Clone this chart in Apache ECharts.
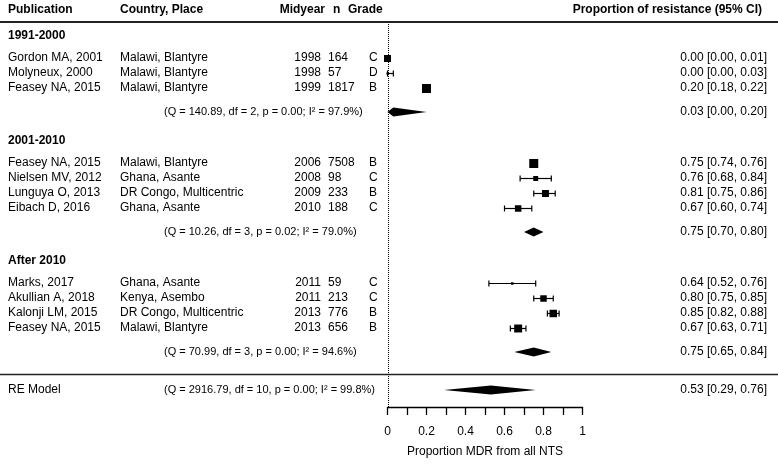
<!DOCTYPE html>
<html><head><meta charset="utf-8">
<script src="https://cdn.jsdelivr.net/npm/echarts@6/dist/echarts.min.js"></script>
<style>html,body{margin:0;padding:0;background:#fff}#c{width:778px;height:469px}</style>
</head><body><div id="c"></div>
<script>
// ---------------- data ----------------
const headers = ['Publication', 'Country, Place', 'Midyear', 'n', 'Grade', 'Proportion of resistance (95% CI)'];
const groupLabels = ['1991-2000', '2001-2010', 'After 2010'];
const studyGroup = [0, 0, 0, 1, 1, 1, 1, 2, 2, 2, 2];
const publications = ['Gordon MA, 2001', 'Molyneux, 2000', 'Feasey NA, 2015', 'Feasey NA, 2015', 'Nielsen MV, 2012', 'Lunguya O, 2013', 'Eibach D, 2016', 'Marks, 2017', 'Akullian A, 2018', 'Kalonji LM, 2015', 'Feasey NA, 2015'];
const places = ['Malawi, Blantyre', 'Malawi, Blantyre', 'Malawi, Blantyre', 'Malawi, Blantyre', 'Ghana, Asante', 'DR Congo, Multicentric', 'Ghana, Asante', 'Ghana, Asante', 'Kenya, Asembo', 'DR Congo, Multicentric', 'Malawi, Blantyre'];
const midyears = [1998, 1998, 1999, 2006, 2008, 2009, 2010, 2011, 2011, 2013, 2013];
const sampleSizes = [164, 57, 1817, 7508, 98, 233, 188, 59, 213, 776, 656];
const grades = ['C', 'D', 'B', 'B', 'C', 'B', 'C', 'C', 'C', 'B', 'B'];
const estimates = [0.00, 0.00, 0.20, 0.75, 0.76, 0.81, 0.67, 0.64, 0.80, 0.85, 0.67];
const lowers = [0.00, 0.00, 0.18, 0.74, 0.68, 0.75, 0.60, 0.52, 0.75, 0.82, 0.63];
const uppers = [0.01, 0.03, 0.22, 0.76, 0.84, 0.86, 0.74, 0.76, 0.85, 0.88, 0.71];
const weights = [10.0, 2.9, 12.9, 12.9, 7.1, 10.0, 9.3, 3.6, 9.3, 10.7, 11.4];
const subgroupEst = [0.03, 0.75, 0.75];
const subgroupLower = [0.00, 0.70, 0.65];
const subgroupUpper = [0.20, 0.80, 0.84];
const subgroupStats = ['(Q = 140.89, df = 2, p = 0.00; I² = 97.9%)', '(Q = 10.26, df = 3, p = 0.02; I² = 79.0%)', '(Q = 70.99, df = 3, p = 0.00; I² = 94.6%)'];
const overallLabel = 'RE Model';
const overallEst = 0.53, overallLower = 0.29, overallUpper = 0.76;
const overallStats = '(Q = 2916.79, df = 10, p = 0.00; I² = 99.8%)';
const xTickLabels = [0, 0.2, 0.4, 0.6, 0.8, 1];
const xAxisTitle = 'Proportion MDR from all NTS';

// ---------------- layout ----------------
const FAM = '"Liberation Sans", Arial, Helvetica, sans-serif';
const FONT = '12px ' + FAM;
const SMALL = '11px ' + FAM;
const BOLD = 'bold 12px ' + FAM;
const rowOf = [], headerRow = [], summaryRow = [];
let r = 0;
groupLabels.forEach((g, gi) => {
  const idx = studyGroup.map((v, i) => v === gi ? i : -1).filter(i => i >= 0);
  headerRow.push(r - 1.5);
  idx.forEach((i, k) => { rowOf[i] = r + k; });
  const last = r + idx.length - 1;
  summaryRow.push(last + 1.6);
  r = last + 5;
});
const lastRow = r - 5;
const hlineRow = lastRow + 3.07;
const overallRow = lastRow + 4.13;
const colHeaderRow = -3.2;
const yMin = -2.4, yMax = lastRow + 5.27;

const fmt = v => v.toFixed(2);
const ciText = (e, l, u) => `${fmt(e)} [${fmt(l)}, ${fmt(u)}]`;

// text entries: [row, text, x, align, font]
const texts = [];
const colX = { pub: 8, place: 120, year: 321, n: 328, grade: 369, stats: 164, ci: 767 };
texts.push([colHeaderRow, headers[0], 8, 'left', BOLD]);
texts.push([colHeaderRow, headers[1], 120, 'left', BOLD]);
texts.push([colHeaderRow, headers[2], 325, 'right', BOLD]);
texts.push([colHeaderRow, headers[3], 333, 'left', BOLD]);
texts.push([colHeaderRow, headers[4], 348, 'left', BOLD]);
texts.push([colHeaderRow, headers[5], 762, 'right', BOLD]);
groupLabels.forEach((g, gi) => {
  texts.push([headerRow[gi], g, colX.pub, 'left', BOLD]);
  texts.push([summaryRow[gi], subgroupStats[gi], colX.stats, 'left', SMALL]);
  texts.push([summaryRow[gi], ciText(subgroupEst[gi], subgroupLower[gi], subgroupUpper[gi]), colX.ci, 'right', FONT]);
});
publications.forEach((p, i) => {
  const row = rowOf[i];
  texts.push([row, p, colX.pub, 'left', FONT]);
  texts.push([row, places[i], colX.place, 'left', FONT]);
  texts.push([row, String(midyears[i]), colX.year, 'right', FONT]);
  texts.push([row, String(sampleSizes[i]), colX.n, 'left', FONT]);
  texts.push([row, grades[i], colX.grade, 'left', FONT]);
  texts.push([row, ciText(estimates[i], lowers[i], uppers[i]), colX.ci, 'right', FONT]);
});
texts.push([overallRow, overallLabel, colX.pub, 'left', FONT]);
texts.push([overallRow, overallStats, colX.stats, 'left', SMALL]);
texts.push([overallRow, ciText(overallEst, overallLower, overallUpper), colX.ci, 'right', FONT]);

const maxW = Math.max(...weights);
const MAXSIZE = 9;

const studyData = estimates.map((e, i) => [e, rowOf[i], lowers[i], uppers[i], weights[i]]);
const diamondData = subgroupEst.map((e, gi) => [e, summaryRow[gi], subgroupLower[gi], subgroupUpper[gi]]);
diamondData.push([overallEst, overallRow, overallLower, overallUpper]);

const chart = echarts.init(document.getElementById('c'), null, { renderer: 'canvas' });
chart.setOption({
  animation: false,
  backgroundColor: '#fff',
  grid: { left: 387.5, width: 195, top: 22, bottom: 62, containLabel: false },
  xAxis: {
    type: 'value', min: 0, max: 1, interval: 0.1,
    axisLine: { show: true, onZero: false, lineStyle: { color: '#000', width: 1.3 } },
    axisTick: { show: true, length: 8, lineStyle: { color: '#000', width: 1.3 } },
    splitLine: { show: false },
    axisLabel: {
      color: '#000', fontSize: 12, fontFamily: FAM, margin: 19,
      formatter: v => xTickLabels.some(t => Math.abs(t - v) < 1e-9) ? String(+v.toFixed(1)) : ''
    },
    name: xAxisTitle, nameLocation: 'middle', nameGap: 39,
    nameTextStyle: { color: '#000', fontSize: 12, fontFamily: FAM }
  },
  yAxis: { type: 'value', inverse: true, min: yMin, max: yMax, show: false },
  series: [
    { // reference lines
      type: 'custom', clip: false, silent: true,
      data: [[0, 0]],
      renderItem(params, api) {
        const W = api.getWidth();
        const x0 = Math.round(api.coord([0, yMin])[0]) + 0.5;
        const yTop = api.coord([0, yMin])[1];
        const yBot = api.coord([0, yMax])[1];
        const yH = Math.round(api.coord([0, hlineRow])[1]) + 0.5;
        return { type: 'group', children: [
          { type: 'line', shape: { x1: 0, y1: yTop, x2: W, y2: yTop }, style: { stroke: '#222', lineWidth: 2 } },
          { type: 'line', shape: { x1: 0, y1: yH, x2: W, y2: yH }, style: { stroke: '#222', lineWidth: 1.5 } },
          { type: 'line', shape: { x1: x0, y1: yTop, x2: x0, y2: yBot }, style: { stroke: '#000', lineWidth: 1, lineDash: [1, 1] } }
        ]};
      }
    },
    { // studies
      type: 'custom', clip: false, silent: true,
      data: studyData,
      renderItem(params, api) {
        const y = Math.round(api.coord([0, api.value(1)])[1]) + 0.5;
        const xe = api.coord([api.value(0), 0])[0];
        const xl = api.coord([api.value(2), 0])[0];
        const xu = api.coord([api.value(3), 0])[0];
        const s = MAXSIZE * api.value(4) / maxW;
        const st = { stroke: '#000', lineWidth: 1.2 };
        return { type: 'group', children: [
          { type: 'line', shape: { x1: xl, y1: y, x2: xu, y2: y }, style: st },
          { type: 'line', shape: { x1: xl, y1: y - 3, x2: xl, y2: y + 3 }, style: st },
          { type: 'line', shape: { x1: xu, y1: y - 3, x2: xu, y2: y + 3 }, style: st },
          { type: 'rect', shape: { x: xe - s / 2, y: y - s / 2, width: s, height: s }, style: { fill: '#000' } }
        ]};
      }
    },
    { // diamonds
      type: 'custom', clip: false, silent: true,
      data: diamondData,
      renderItem(params, api) {
        const y = api.coord([0, api.value(1)])[1];
        const xe = api.coord([api.value(0), 0])[0];
        const xl = api.coord([api.value(2), 0])[0];
        const xu = api.coord([api.value(3), 0])[0];
        const h = 4.5;
        return { type: 'polygon', shape: { points: [[xl, y], [xe, y - h], [xu, y], [xe, y + h]] }, style: { fill: '#000' } };
      }
    },
    { // texts
      type: 'custom', clip: false, silent: true,
      data: texts.map((t, i) => [0, t[0], i]),
      renderItem(params, api) {
        const t = texts[api.value(2)];
        const y = api.coord([0, api.value(1)])[1];
        return { type: 'text', x: t[2], y: y, style: {
          text: t[1], font: t[4], fill: '#000',
          textAlign: t[3], textVerticalAlign: 'middle', align: t[3], verticalAlign: 'middle'
        }};
      }
    }
  ]
});
</script></body></html>
